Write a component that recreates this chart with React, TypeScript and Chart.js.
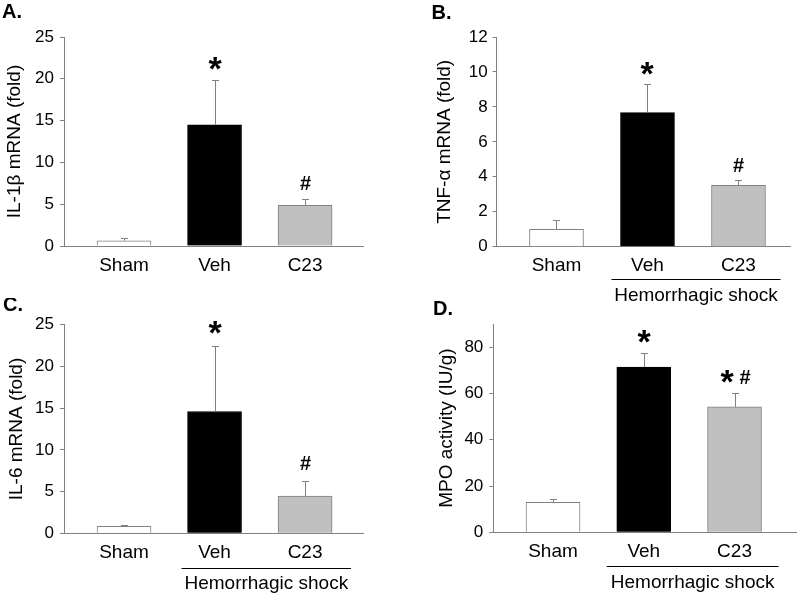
import React, { useEffect, useRef } from 'react';
import { Chart, registerables } from 'chart.js';

Chart.register(...registerables);

const FONT = '"Liberation Sans", Arial, sans-serif';

// ---------- data ----------
const categories = ['Sham', 'Veh', 'C23'];
const groupLabel = 'Hemorrhagic shock';

const il1bMean = [0.63, 14.5, 4.87];
const il1bErr = [0.3, 5.3, 0.7];
const il1bMarks = ['', '*', '#'];
const il1bTicks = [0, 5, 10, 15, 20, 25];

const tnfMean = [1.0, 7.67, 3.51];
const tnfErr = [0.53, 1.63, 0.31];
const tnfMarks = ['', '*', '#'];
const tnfTicks = [0, 2, 4, 6, 8, 10, 12];

const il6Mean = [0.84, 14.6, 4.47];
const il6Err = [0.12, 7.8, 1.75];
const il6Marks = ['', '*', '#'];
const il6Ticks = [0, 5, 10, 15, 20, 25];

const mpoMean = [13.0, 71.4, 54.2];
const mpoErr = [1.5, 6.0, 5.8];
const mpoMarks = ['', '*', '*#'];
const mpoTicks = [0, 20, 40, 60, 80];
const mpoAxisMax = 90;

// ---------- styles ----------
const barFill = ['#ffffff', '#000000', '#c0c0c0'];
const barEdge = ['#808080', '#000000', '#808080'];
const TITLE_SIZE = 19;
const XLABEL_SIZE = 19;
const TICK_SIZE = 17;

type Panel = {
  label: string;
  title: string;
  mean: number[];
  err: number[];
  marks: string[];
  ticks: number[];
  yMax: number;
  group: null | { lineDy: number; textDy: number; left: number; right: number };
  rect: { x: number; y: number; w: number; h: number };
  area: { l: number; r: number; t: number; b: number };
  xMin: number;
  xMax: number;
  titleX: number;
  tickPad: number;
  labelPos: { x: number; y: number };
  markGap: number;
};

const panels: Panel[] = [
  {
    label: 'A.', title: 'IL-1β mRNA (fold)', mean: il1bMean, err: il1bErr, marks: il1bMarks,
    ticks: il1bTicks, yMax: il1bTicks[il1bTicks.length - 1], group: null,
    rect: { x: 0, y: 0, w: 400, h: 298 }, area: { l: 64, r: 363, t: 37, b: 246 },
    xMin: -0.663, xMax: 2.64, titleX: 15, tickPad: 6, labelPos: { x: 2, y: 18 }, markGap: 17,
  },
  {
    label: 'B.', title: 'TNF-α mRNA (fold)', mean: tnfMean, err: tnfErr, marks: tnfMarks,
    ticks: tnfTicks, yMax: tnfTicks[tnfTicks.length - 1],
    group: { lineDy: 32, textDy: 16, left: 36, right: 42 },
    rect: { x: 400, y: 0, w: 400, h: 322 }, area: { l: 96.7, r: 390, t: 37, b: 246.7 },
    xMin: -0.657, xMax: 2.566, titleX: 45, tickPad: 5, labelPos: { x: 31.5, y: 18.5 }, markGap: 16,
  },
  {
    label: 'C.', title: 'IL-6 mRNA (fold)', mean: il6Mean, err: il6Err, marks: il6Marks,
    ticks: il6Ticks, yMax: il6Ticks[il6Ticks.length - 1],
    group: { lineDy: 34.5, textDy: 15.5, left: 33, right: 46 },
    rect: { x: 0, y: 298, w: 400, h: 298 }, area: { l: 64, r: 363, t: 26.7, b: 235.3 },
    xMin: -0.663, xMax: 2.64, titleX: 16.5, tickPad: 6, labelPos: { x: 3, y: 13 }, markGap: 19,
  },
  {
    label: 'D.', title: 'MPO activity (IU/g)', mean: mpoMean, err: mpoErr, marks: mpoMarks,
    ticks: mpoTicks, yMax: mpoAxisMax,
    group: { lineDy: 33.5, textDy: 16, left: 37, right: 44 },
    rect: { x: 400, y: 298, w: 400, h: 298 }, area: { l: 93.3, r: 396.7, t: 26, b: 234.3 },
    xMin: -0.658, xMax: 2.685, titleX: 46.5, tickPad: 6, labelPos: { x: 33, y: 17 }, markGap: 17,
  },
];

function drawMarks(ctx: CanvasRenderingContext2D, text: string, cx: number, cy: number) {
  const parts = text.split('').map((ch) => {
    const font = ch === '*' ? `bold 34px ${FONT}` : `bold 20px ${FONT}`;
    ctx.font = font;
    const m = ctx.measureText(ch);
    return {
      ch, font, m,
      w: m.actualBoundingBoxLeft + m.actualBoundingBoxRight,
    };
  });
  const gap = 5;
  const total = parts.reduce((s, p) => s + p.w, 0) + gap * (parts.length - 1);
  let x = cx - total / 2;
  ctx.fillStyle = '#000';
  ctx.textAlign = 'left';
  ctx.textBaseline = 'alphabetic';
  parts.forEach((p) => {
    ctx.font = p.font;
    const asc = p.m.actualBoundingBoxAscent;
    const desc = p.m.actualBoundingBoxDescent;
    ctx.fillText(p.ch, x + p.m.actualBoundingBoxLeft, cy + (asc - desc) / 2);
    x += p.w + gap;
  });
}

function makeAnnot(p: Panel) {
  return {
    id: 'panelAnnot',
    afterDraw(chart: any) {
      const ctx: CanvasRenderingContext2D = chart.ctx;
      const xs = chart.scales.x;
      const ys = chart.scales.y;
      ctx.save();
      // error bars (upper only)
      ctx.strokeStyle = '#808080';
      ctx.lineWidth = 1;
      p.mean.forEach((m, i) => {
        const x = Math.round(xs.getPixelForValue(i)) + 0.5;
        const y0 = ys.getPixelForValue(m);
        const y1 = Math.round(ys.getPixelForValue(m + p.err[i])) + 0.5;
        ctx.beginPath();
        ctx.moveTo(x, y0);
        ctx.lineTo(x, y1);
        ctx.moveTo(x - 3.5, y1);
        ctx.lineTo(x + 3.5, y1);
        ctx.stroke();
        if (p.marks[i]) drawMarks(ctx, p.marks[i], x, y1 - p.markGap);
      });
      // group bracket
      if (p.group) {
        const yL = Math.round(chart.chartArea.bottom + p.group.lineDy) + 0.5;
        const x1 = xs.getPixelForValue(1) - p.group.left;
        const x2 = xs.getPixelForValue(2) + p.group.right;
        ctx.strokeStyle = '#000';
        ctx.beginPath();
        ctx.moveTo(x1, yL);
        ctx.lineTo(x2, yL);
        ctx.stroke();
        ctx.fillStyle = '#000';
        ctx.font = `${XLABEL_SIZE}px ${FONT}`;
        ctx.textAlign = 'center';
        ctx.textBaseline = 'middle';
        ctx.fillText(groupLabel, (x1 + x2) / 2, yL + p.group.textDy);
      }
      // panel label
      ctx.fillStyle = '#000';
      ctx.font = `bold 20px ${FONT}`;
      ctx.textAlign = 'left';
      ctx.textBaseline = 'alphabetic';
      ctx.fillText(p.label, p.labelPos.x, p.labelPos.y);
      ctx.restore();
    },
  };
}

function PanelChart({ p }: { p: Panel }) {
  const ref = useRef<HTMLCanvasElement | null>(null);
  useEffect(() => {
    if (!ref.current) return;
    const titleLine = TITLE_SIZE * 1.2;
    const padLeft = p.titleX - titleLine / 2;
    const chart = new Chart(ref.current, {
      type: 'bar',
      data: {
        datasets: [
          {
            data: p.mean.map((v, i) => ({ x: i, y: v })),
            backgroundColor: barFill,
            borderColor: barEdge,
            borderWidth: 1,
            barThickness: 54,
          } as any,
        ],
      },
      options: {
        responsive: false,
        animation: false,
        devicePixelRatio: 1,
        layout: {
          padding: { left: padLeft, right: p.rect.w - p.area.r, top: p.area.t, bottom: 0 },
        },
        plugins: { legend: { display: false }, tooltip: { enabled: false } },
        scales: {
          x: {
            type: 'linear',
            offset: false,
            min: p.xMin,
            max: p.xMax,
            grid: { display: false, drawTicks: false, offset: false },
            border: { display: true, color: '#808080', width: 1 },
            afterBuildTicks: (s: any) => {
              s.ticks = categories.map((_, i) => ({ value: i }));
            },
            afterFit: (s: any) => {
              s.height = p.rect.h - p.area.b;
            },
            ticks: {
              autoSkip: false,
              maxRotation: 0,
              padding: 8,
              color: '#000',
              font: { family: FONT, size: XLABEL_SIZE },
              callback: (v: any) => categories[Math.round(v)] ?? '',
            },
          },
          y: {
            type: 'linear',
            min: 0,
            max: p.yMax,
            grid: { drawOnChartArea: false, drawTicks: true, tickLength: 4, color: '#808080' },
            border: { display: true, color: '#808080', width: 1 },
            afterBuildTicks: (s: any) => {
              s.ticks = p.ticks.map((v) => ({ value: v }));
            },
            afterFit: (s: any) => {
              s.width = p.area.l - padLeft;
            },
            ticks: { padding: p.tickPad, color: '#000', font: { family: FONT, size: TICK_SIZE } },
            title: {
              display: true,
              text: p.title,
              color: '#000',
              font: { family: FONT, size: TITLE_SIZE },
              padding: 0,
            },
          },
        },
      } as any,
      plugins: [makeAnnot(p)],
    });
    return () => chart.destroy();
  }, [p]);
  return (
    <canvas
      ref={ref}
      width={p.rect.w}
      height={p.rect.h}
      style={{
        position: 'absolute',
        left: p.rect.x,
        top: p.rect.y,
        width: p.rect.w,
        height: p.rect.h,
      }}
    />
  );
}

export default function App() {
  return (
    <div
      style={{
        position: 'absolute',
        left: 0,
        top: 0,
        width: 800,
        height: 596,
        background: '#fff',
        overflow: 'hidden',
      }}
    >
      {panels.map((p) => (
        <PanelChart key={p.label} p={p} />
      ))}
    </div>
  );
}
